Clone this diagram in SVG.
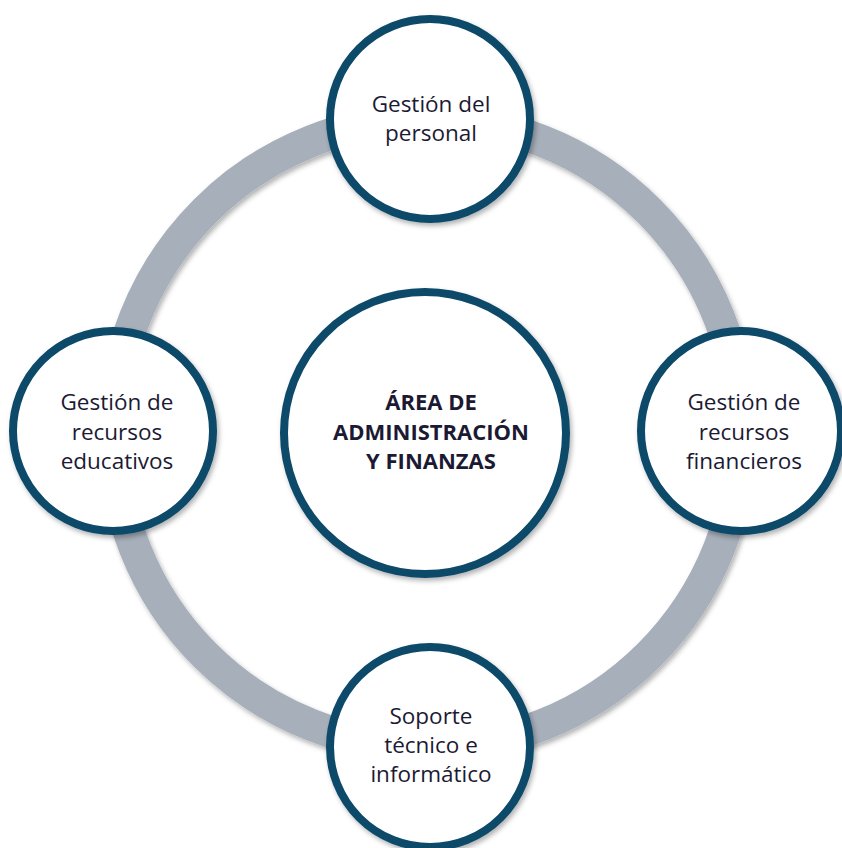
<svg xmlns="http://www.w3.org/2000/svg" width="842" height="848" viewBox="0 0 842 848">
<defs>
<filter id="sh" x="-20%" y="-20%" width="140%" height="140%">
<feDropShadow dx="2" dy="3" stdDeviation="2.5" flood-color="#000" flood-opacity="0.3"/>
</filter>
<style>
.node{fill:#fff;stroke:#0B4868;stroke-width:8;filter:url(#sh)}
.lbl{font-family:"Open Sans","Noto Sans",sans-serif;font-size:22.5px;fill:#1C1A33;text-anchor:middle}
.ctr{font-family:"Open Sans","Noto Sans",sans-serif;font-size:22px;font-weight:bold;fill:#1C1A33;text-anchor:middle}
</style>
</defs>
<rect width="842" height="848" fill="#fff"/>
<g id="connectors">
<circle cx="427" cy="433" r="314" fill="none" stroke="#A7AFBA" stroke-width="32" filter="url(#sh)"/>
</g>
<g id="center">
<circle class="node" cx="425" cy="433" r="141"/>
<text class="ctr" x="431" y="410">ÁREA DE</text>
<text class="ctr" x="431" y="440">ADMINISTRACIÓN</text>
<text class="ctr" x="431" y="469">Y FINANZAS</text>
</g>
<g id="personal">
<circle class="node" cx="430" cy="119" r="100"/>
<text class="lbl" x="431" y="112">Gestión del</text>
<text class="lbl" x="431" y="141">personal</text>
</g>
<g id="educativos">
<circle class="node" cx="113" cy="431" r="100"/>
<text class="lbl" x="117" y="410">Gestión de</text>
<text class="lbl" x="117" y="440">recursos</text>
<text class="lbl" x="117" y="469">educativos</text>
</g>
<g id="financieros">
<circle class="node" cx="741" cy="431" r="100"/>
<text class="lbl" x="744" y="410">Gestión de</text>
<text class="lbl" x="744" y="440">recursos</text>
<text class="lbl" x="744" y="469">financieros</text>
</g>
<g id="soporte">
<circle class="node" cx="430" cy="747" r="100"/>
<text class="lbl" x="431" y="724">Soporte</text>
<text class="lbl" x="431" y="753">técnico e</text>
<text class="lbl" x="431" y="782">informático</text>
</g>
</svg>
